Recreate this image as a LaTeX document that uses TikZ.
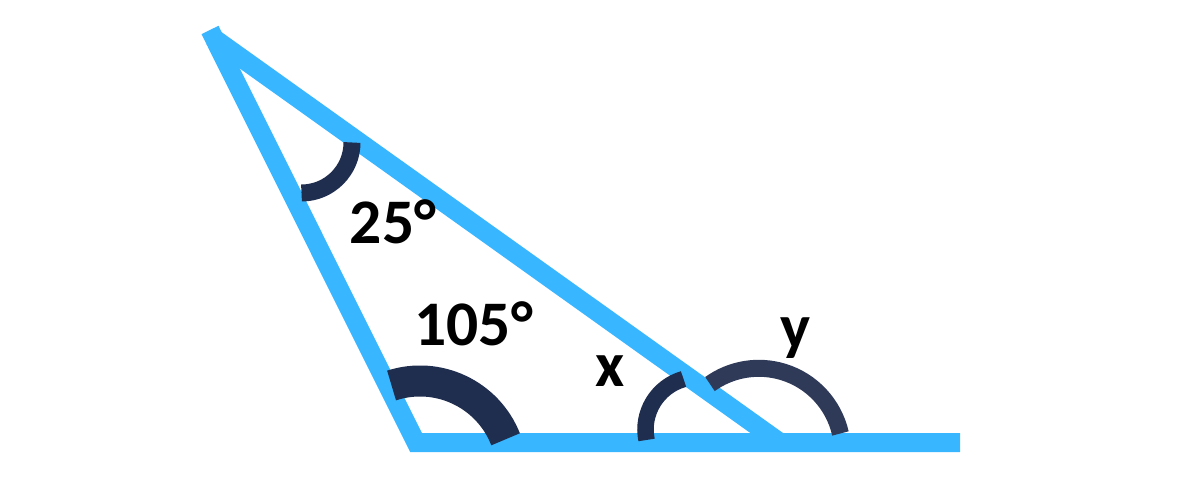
\documentclass[tikz,border=0pt]{standalone}
\usepackage{fontspec}
\setmainfont{Carlito}
\definecolor{lineblue}{RGB}{56,182,255}
\definecolor{arcnavy}{RGB}{31,45,78}
\definecolor{arcnavyb}{RGB}{47,57,88}
\begin{document}
\begin{tikzpicture}[x=1pt,y=-1pt,
  side/.style={draw=lineblue,line width=19pt,line cap=butt,line join=miter},
  anglearc/.style={draw=arcnavy,line cap=butt},
  lbl/.style={inner sep=0pt,anchor=base,font=\fontsize{63.5}{70}\selectfont\bfseries}]
\useasboundingbox[fill=white] (0,0) rectangle (1183,494);
% vertices
\coordinate (A) at (210,30);
\coordinate (B) at (416,442.5);
\coordinate (E) at (960,442.5);
\coordinate (H1) at (212,37);
\coordinate (C) at (780,442.5);
% arc centres
\coordinate (cA) at (301.5,142.5);
\coordinate (cB) at (420,473);
\coordinate (cX) at (698,429.5);
\coordinate (cY) at (758.8,452);
% sides
\draw[side] (A) -- (B) -- (E);
\draw[side] (H1) -- (C);
% angle arcs
\draw[anglearc,line width=17pt] (cA) ++(0:50.5) arc[start angle=0,end angle=90,radius=50.5];
\draw[anglearc,line width=31pt] (cB) ++(-21.5:92) arc[start angle=-21.5,end angle=-108,radius=92];
\draw[anglearc,line width=16.5pt] (cX) ++(-106:52.5) arc[start angle=-106,end angle=-191.5,radius=52.5];
\draw[anglearc,draw=arcnavyb,line width=17pt] (cY) ++(-12.8:83.7) arc[start angle=-12.8,end angle=-125.7,radius=83.7];
% labels
\node[lbl] (t25) at (393,243.3) {25°};
\node[lbl] (t105) at (473.7,345) {105°};
\node[lbl] (tx) at (610.3,386.7) {x};
\node[lbl] (ty) at (795.9,348.3) {y};
\end{tikzpicture}
\end{document}
